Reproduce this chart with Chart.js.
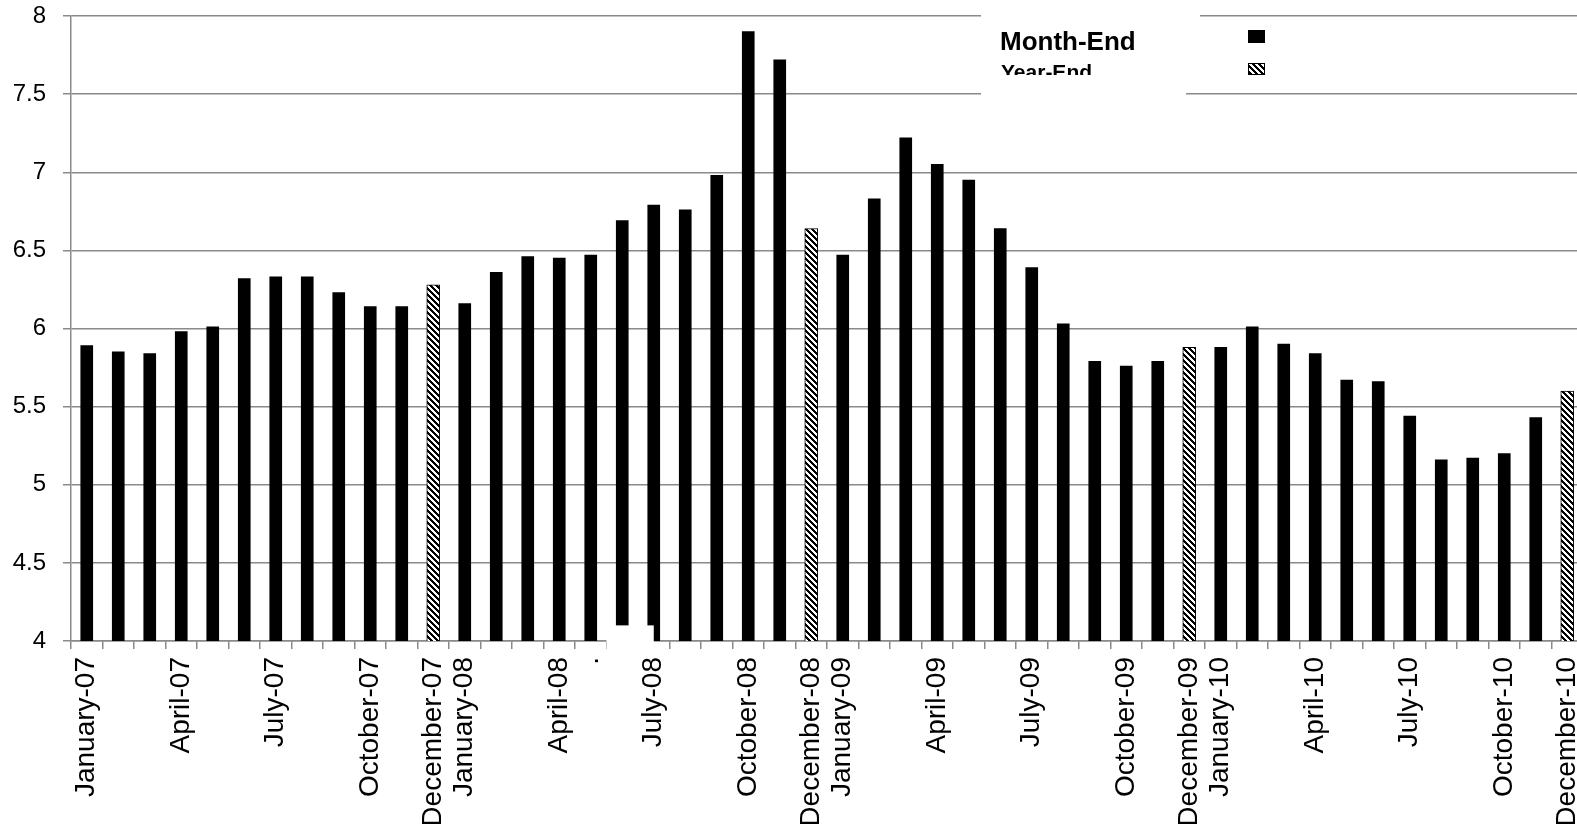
<!DOCTYPE html>
<html>
<head>
<meta charset="utf-8">
<title>Month-End / Year-End</title>
<script src="https://cdn.jsdelivr.net/npm/chart.js@4/dist/chart.umd.min.js"></script>
<style>
  html, body { margin: 0; padding: 0; background: #ffffff; overflow: hidden; }
  #wrap { width: 1584px; height: 824px; }
</style>
</head>
<body>
<div id="wrap"><canvas id="rateChart" width="1584" height="824"></canvas></div>
<script>
const monthNames = ['January', 'February', 'March', 'April', 'May', 'June',
  'July', 'August', 'September', 'October', 'November', 'December'];
const years = ['07', '08', '09', '10'];

// monthly values, Jan-07 .. Dec-10
const rates = [
  5.89, 5.85, 5.84, 5.98, 6.01, 6.32, 6.33, 6.33, 6.23, 6.14, 6.14, 6.28,
  6.16, 6.36, 6.46, 6.45, 6.47, 6.69, 6.79, 6.76, 6.98, 7.90, 7.72, 6.64,
  6.47, 6.83, 7.22, 7.05, 6.95, 6.64, 6.39, 6.03, 5.79, 5.76, 5.79, 5.88,
  5.88, 6.01, 5.90, 5.84, 5.67, 5.66, 5.44, 5.16, 5.17, 5.20, 5.43, 5.60
];

const tickLabels = [
  'January-07', '', '', 'April-07', '', '', 'July-07', '', '', 'October-07', '', 'December-07',
  'January-08', '', '', 'April-08', '.', '', 'July-08', '', '', 'October-08', '', 'December-08',
  'January-09', '', '', 'April-09', '', '', 'July-09', '', '', 'October-09', '', 'December-09',
  'January-10', '', '', 'April-10', '', '', 'July-10', '', '', 'October-10', '', 'December-10'
];

const yTicks = [4, 4.5, 5, 5.5, 6, 6.5, 7, 7.5, 8];

const categories = [];
years.forEach(y => monthNames.forEach(m => categories.push(m + '-' + y)));

const isYearEnd = i => i % 12 === 11;
const monthEnd = rates.map((v, i) => isYearEnd(i) ? null : v);
const yearEnd = rates.map((v, i) => isYearEnd(i) ? v : null);

const GRID = '#8a8a8a';
const FONT = "'Liberation Sans', Arial, sans-serif";

// crisp "\" hatch, built pixel by pixel so it doesn't blur to grey
function makeHatch(size, dark) {
  const c = document.createElement('canvas');
  c.width = size; c.height = size;
  const g = c.getContext('2d');
  g.fillStyle = '#ffffff';
  g.fillRect(0, 0, size, size);
  g.fillStyle = '#000000';
  for (let py = 0; py < size; py++) {
    for (let px = 0; px < size; px++) {
      if ((px - py + size * 4) % size < dark) g.fillRect(px, py, 1, 1);
    }
  }
  return g.createPattern(c, 'repeat');
}
const hatch = makeHatch(6, 3);

// legend block in the top-right, plus the blanked patch near June-08
const overlay = {
  id: 'overlay',
  afterDraw(chart) {
    const ctx = chart.ctx;
    const x = chart.scales.x, y = chart.scales.y;
    ctx.save();

    // white patch over the axis around June/July-08
    const left = (x.getPixelForValue(16) + x.getPixelForValue(17)) / 2;
    const right = x.getPixelForValue(18);
    const top = y.getPixelForValue(4.1);
    ctx.fillStyle = '#ffffff';
    ctx.fillRect(left, top, right - left, chart.chartArea.bottom + 11 - top);

    // legend box
    ctx.fillRect(981, 8, 219, 44);
    ctx.fillRect(981, 52, 205, 48);

    ctx.fillStyle = '#000000';
    ctx.textBaseline = 'alphabetic';
    ctx.save();
    ctx.beginPath();
    ctx.rect(981, 8, 200, 42);
    ctx.clip();
    ctx.font = 'bold 26px ' + FONT;
    ctx.fillText('Month-End', 1000, 50);
    ctx.restore();

    ctx.save();
    ctx.beginPath();
    ctx.rect(981, 52, 200, 23);
    ctx.clip();
    ctx.font = 'bold 21px ' + FONT;
    ctx.fillText('Year-End', 1001, 79);
    ctx.restore();

    ctx.fillStyle = '#000000';
    ctx.fillRect(1248, 30, 17, 13);
    ctx.fillStyle = makeHatch(6, 3);
    ctx.fillRect(1248.5, 63.5, 16, 11);
    ctx.strokeStyle = '#000000';
    ctx.lineWidth = 1;
    ctx.strokeRect(1248.5, 63.5, 16, 11);
    ctx.restore();
  }
};

new Chart(document.getElementById('rateChart'), {
  type: 'bar',
  data: {
    labels: categories,
    datasets: [
      {
        label: 'Month-End',
        data: monthEnd,
        backgroundColor: '#000000',
        barThickness: 12,
        grouped: false
      },
      {
        label: 'Year-End',
        data: yearEnd,
        backgroundColor: hatch,
        borderColor: '#000000',
        borderWidth: 1,
        barThickness: 13,
        grouped: false
      }
    ]
  },
  options: {
    responsive: false,
    animation: false,
    devicePixelRatio: 1,
    layout: { padding: { top: 16, right: 1, left: 0, bottom: 0 } },
    plugins: {
      legend: { display: false },
      tooltip: { enabled: false }
    },
    scales: {
      x: {
        offset: true,
        afterFit: s => {
          s.height = 824 - 641;
          s.paddingLeft = 0;
          s.paddingRight = 0;
        },
        grid: {
          offset: true,
          drawOnChartArea: false,
          color: GRID,
          lineWidth: 1.5,
          tickLength: 8
        },
        border: { color: GRID, width: 1.5 },
        ticks: {
          autoSkip: false,
          minRotation: 90,
          maxRotation: 90,
          padding: 8,
          color: '#000000',
          font: { family: FONT, size: 28 },
          callback: (v, i) => tickLabels[i]
        }
      },
      y: {
        min: 4,
        max: 8,
        afterFit: s => {
          s.width = 71;
          s.paddingTop = 0;
          s.paddingBottom = 0;
        },
        afterBuildTicks: s => { s.ticks = yTicks.map(v => ({ value: v })); },
        grid: { color: GRID, lineWidth: 1.5, tickLength: 8 },
        border: { color: GRID, width: 1.5 },
        ticks: {
          padding: 17,
          color: '#000000',
          font: { family: FONT, size: 24 },
          callback: v => String(v)
        }
      }
    }
  },
  plugins: [overlay]
});
</script>
</body>
</html>
